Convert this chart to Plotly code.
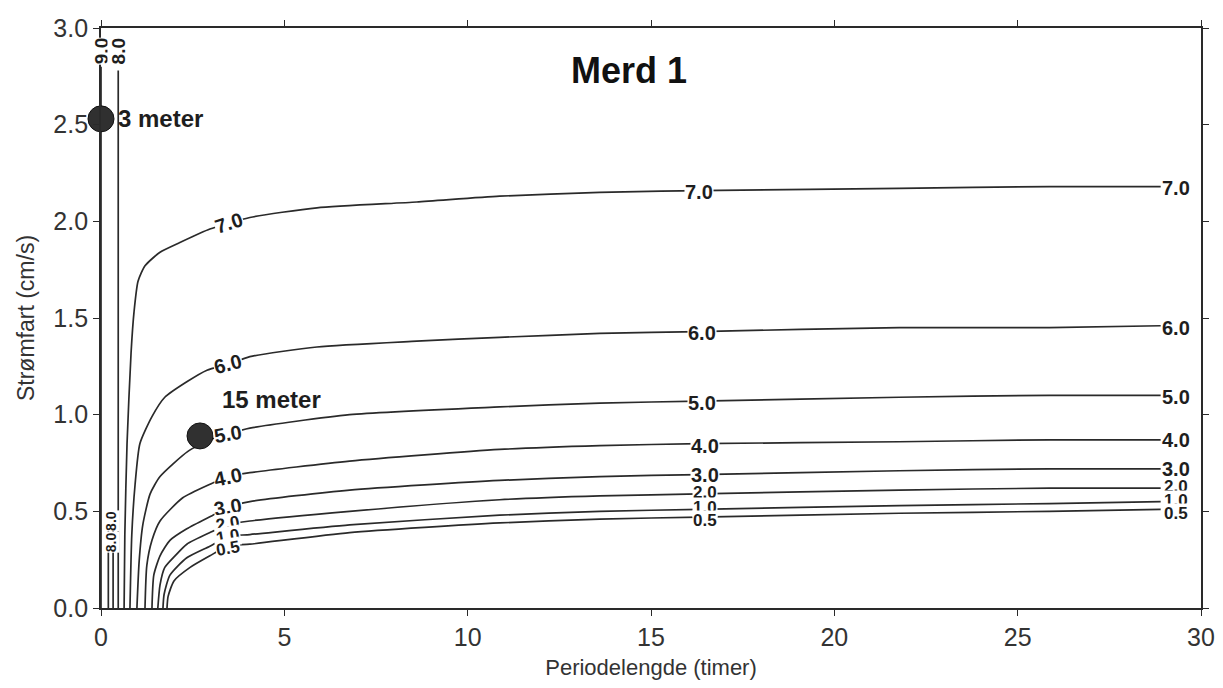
import plotly.graph_objects as go

# ---- data (x = Periodelengde [timer], y = Strømfart [cm/s]) ----
c90_x = [0.0, 0.0]
c90_y = [0.0, 2.80]
c80_x = [0.47, 0.47]
c80_y = [0.0, 2.78]
c80b_x = [0.20, 0.20, None, 0.33, 0.33]
c80b_y = [0.0, 0.47, None, 0.0, 0.42]

c70_x = [0.63, 0.65, 0.71, 0.82, 0.90, 1.01, 1.20, 1.61, 2.15, 2.97, 4.06, 5.89, 8.61, 10.87, 13.60, 16.87, 21.77, 25.86, 28.90]
c70_y = [0.00, 0.38, 0.85, 1.32, 1.53, 1.69, 1.77, 1.84, 1.89, 1.96, 2.02, 2.07, 2.10, 2.13, 2.15, 2.16, 2.17, 2.18, 2.18]

c60_x = [0.79, 0.84, 0.93, 1.06, 1.39, 1.74, 2.34, 2.89, 3.46, 4.06, 5.89, 8.61, 10.87, 13.60, 16.32, 21.77, 25.86, 28.90]
c60_y = [0.00, 0.38, 0.64, 0.85, 0.99, 1.09, 1.17, 1.23, 1.26, 1.30, 1.35, 1.38, 1.40, 1.42, 1.43, 1.45, 1.45, 1.46]

c50_x = [0.98, 1.04, 1.14, 1.34, 1.61, 2.37, 2.97, 3.46, 4.06, 6.78, 10.87, 13.60, 16.32, 21.77, 25.86, 28.90]
c50_y = [0.00, 0.24, 0.43, 0.59, 0.68, 0.81, 0.87, 0.90, 0.93, 1.00, 1.04, 1.06, 1.07, 1.09, 1.10, 1.10]

c40_x = [1.20, 1.25, 1.39, 1.61, 2.23, 2.97, 3.46, 4.06, 6.78, 10.87, 13.60, 16.32, 21.77, 25.86, 28.90]
c40_y = [0.00, 0.22, 0.35, 0.45, 0.57, 0.64, 0.68, 0.70, 0.76, 0.82, 0.84, 0.85, 0.86, 0.87, 0.87]

c30_x = [1.39, 1.44, 1.61, 1.88, 2.34, 3.05, 3.46, 4.06, 6.78, 10.87, 13.60, 16.32, 21.77, 25.86, 28.90]
c30_y = [0.00, 0.17, 0.27, 0.35, 0.41, 0.48, 0.52, 0.55, 0.61, 0.66, 0.68, 0.69, 0.71, 0.72, 0.72]

c20_x = [1.55, 1.61, 1.74, 2.02, 2.34, 2.97, 3.46, 4.06, 6.78, 10.87, 13.60, 16.32, 21.77, 25.86, 28.90]
c20_y = [0.00, 0.12, 0.21, 0.27, 0.33, 0.39, 0.43, 0.45, 0.50, 0.56, 0.58, 0.59, 0.61, 0.62, 0.62]

c10_x = [1.69, 1.72, 1.88, 2.34, 2.97, 3.46, 4.06, 6.78, 10.87, 13.60, 16.32, 21.77, 25.86, 28.90]
c10_y = [0.00, 0.07, 0.17, 0.26, 0.32, 0.37, 0.38, 0.43, 0.48, 0.50, 0.51, 0.53, 0.54, 0.55]

c05_x = [1.80, 1.83, 1.99, 2.43, 2.97, 3.46, 4.06, 6.78, 10.87, 13.60, 16.32, 21.77, 25.86, 28.90]
c05_y = [0.00, 0.06, 0.14, 0.21, 0.27, 0.32, 0.33, 0.39, 0.44, 0.46, 0.47, 0.49, 0.50, 0.51]

# contour labels: text, x, y, angle
label_text = ["9.0", "8.0", "8.0", "8.0",
              "7.0", "7.0", "7.0",
              "6.0", "6.0", "6.0",
              "5.0", "5.0", "5.0",
              "4.0", "4.0", "4.0",
              "3.0", "3.0", "3.0",
              "2.0", "2.0", "2.0",
              "1.0", "1.0", "1.0",
              "0.5", "0.5", "0.5"]
label_x = [0.0, 0.47, 0.27, 0.27,
           3.49, 16.32, 29.32,
           3.46, 16.38, 29.32,
           3.46, 16.38, 29.32,
           3.46, 16.46, 29.32,
           3.46, 16.46, 29.32,
           3.46, 16.46, 29.32,
           3.46, 16.46, 29.32,
           3.46, 16.46, 29.32]
label_y = [2.88, 2.88, 0.45, 0.34,
           1.99, 2.15, 2.17,
           1.26, 1.42, 1.45,
           0.90, 1.06, 1.09,
           0.68, 0.84, 0.87,
           0.52, 0.69, 0.72,
           0.435, 0.595, 0.63,
           0.37, 0.52, 0.555,
           0.31, 0.455, 0.49]
label_angle = [-90, -90, -90, -90,
               -18, 0, 0,
               -14, 0, 0,
               -10, 0, 0,
               -12, 0, 0,
               -10, 0, 0,
               -10, 0, 0,
               -10, 0, 0,
               -10, 0, 0]
label_size = [19, 19, 14, 14] + [20] * 15 + [17] * 9

point_names = ["3 meter", "15 meter"]
point_x = [0.0, 2.70]
point_y = [2.53, 0.89]
point_text_x = [0.42, 3.25]
point_text_y = [2.53, 1.08]

contours = [
    (c90_x, c90_y), (c80_x, c80_y), (c80b_x, c80b_y),
    (c70_x, c70_y), (c60_x, c60_y), (c50_x, c50_y), (c40_x, c40_y),
    (c30_x, c30_y), (c20_x, c20_y), (c10_x, c10_y), (c05_x, c05_y),
]

LINE = "#2a2a2a"
FONT = "Liberation Sans, Arial, sans-serif"

fig = go.Figure()
for cx, cy in contours:
    fig.add_trace(go.Scatter(
        x=cx, y=cy, mode="lines",
        line=dict(color=LINE, width=1.7, shape="spline", smoothing=0.6),
        hoverinfo="skip", showlegend=False, cliponaxis=False,
    ))

fig.add_trace(go.Scatter(
    x=point_x, y=point_y, mode="markers",
    marker=dict(size=26, color="#303030", line=dict(color="#111", width=1)),
    showlegend=False, cliponaxis=False, hoverinfo="skip",
))

annotations = []
for t, x, y, a, s in zip(label_text, label_x, label_y, label_angle, label_size):
    annotations.append(dict(
        x=x, y=y, text="<b>" + t + "</b>", showarrow=False, textangle=a,
        font=dict(family=FONT, size=s, color="#1e1e1e"),
        bgcolor="white", borderpad=0,
    ))
for name, x, y in zip(point_names, point_text_x, point_text_y):
    annotations.append(dict(
        x=x, y=y, text="<b>" + name + "</b>", showarrow=False,
        xanchor="left", font=dict(family=FONT, size=24, color="#1e1e1e"),
    ))
annotations.append(dict(
    x=14.4, y=2.78, text="<b>Merd 1</b>", showarrow=False,
    font=dict(family=FONT, size=36, color="#111"),
))

axis_common = dict(
    showline=True, linecolor=LINE, linewidth=1.8, mirror="ticks",
    ticks="outside", ticklen=6, tickcolor=LINE, tickwidth=1.3,
    showgrid=False, zeroline=False, automargin=False,
    ticklabeloverflow="allow",
    tickfont=dict(family=FONT, size=25, color="#333"),
)

fig.update_layout(
    width=1207, height=672,
    margin=dict(l=93, r=14, t=20, b=72),
    paper_bgcolor="white", plot_bgcolor="white",
    annotations=annotations,
    xaxis=dict(range=[0, 30], tickvals=[0, 5, 10, 15, 20, 25, 30],
               title=dict(text="Periodelengde (timer)", standoff=10,
                          font=dict(family=FONT, size=22, color="#333")),
               **axis_common),
    yaxis=dict(range=[0, 3], tickvals=[0, 0.5, 1.0, 1.5, 2.0, 2.5, 3.0],
               tickformat=".1f", ticklabelstandoff=0,
               title=dict(text="Strømfart (cm/s)", standoff=12,
                          font=dict(family=FONT, size=23, color="#333")),
               **axis_common),
)

fig.write_html("out.html")
